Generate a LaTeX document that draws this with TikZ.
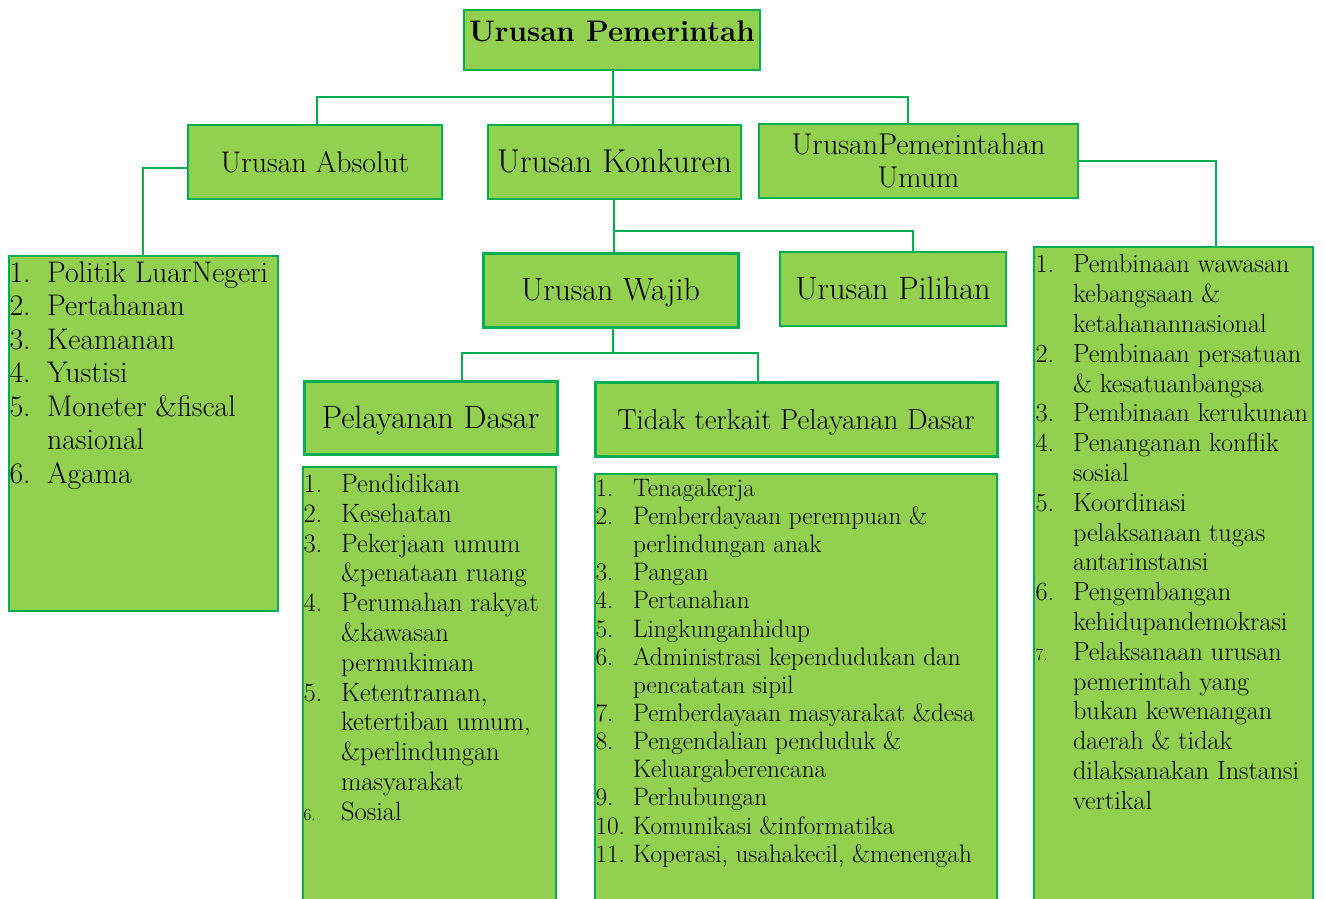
\documentclass[tikz,border=0pt]{standalone}
\usetikzlibrary{
    positioning % for placing the list texts inside their boxes
}
\definecolor{boxgreen}{HTML}{92D050}
\definecolor{linegreen}{HTML}{00B050}
\newlength{\itmw}
\setlength{\itmw}{37.5pt}
\newcommand{\fs}[2]{\fontsize{#1}{#2}\selectfont}
\newcommand{\itm}[1]{\strut\makebox[\itmw][l]{#1}}
\newcommand{\nxt}{\strut\hspace*{\itmw}}

\begin{document}
\begin{tikzpicture}[
        x=1pt,y=-1pt,
        green box/.style  = {rectangle,draw=linegreen,fill=boxgreen,line width=1.3pt,
                             inner sep=0pt,align=center,text height=21pt,text depth=0pt},
        thick box/.style  = {green box,line width=3pt},
        list box/.style   = {rectangle,draw=linegreen,fill=boxgreen,line width=1.3pt,inner sep=0pt},
        list text/.style  = {align=left,inner sep=0pt},
        link/.style       = {draw=linegreen,line width=1.6pt}
    ]
    \useasboundingbox (0,0) rectangle (1325,899);

    % top of the tree
    \node [green box,minimum width=296pt,minimum height=60pt,text height=32pt,text depth=28pt,
           font=\fs{29.7}{36}\bfseries] (title) at (612,40) {Urusan Pemerintah};

    \node [green box,minimum width=254pt,minimum height=74pt,font=\fs{29.8}{33}] (absolut)  at (315,162)   {Urusan Absolut};
    \node [green box,minimum width=253pt,minimum height=74pt,font=\fs{33}{33}]   (konkuren) at (614.5,162) {Urusan Konkuren};
    \node [green box,minimum width=319pt,minimum height=74pt,font=\fs{30}{33},
           text height=,text depth=] (umum) at (918.5,161) {UrusanPemerintahan\\Umum};

    \node [thick box,minimum width=255pt,minimum height=74pt,font=\fs{32}{33}]   (wajib)   at (610.5,290) {Urusan Wajib};
    \node [green box,minimum width=226pt,minimum height=74pt,font=\fs{32.3}{33}] (pilihan) at (893,289)   {Urusan Pilihan};

    \node [thick box,minimum width=253pt,minimum height=73pt,font=\fs{32.3}{33}] (pelayanan) at (430.5,417.5) {Pelayanan Dasar};
    \node [thick box,minimum width=402pt,minimum height=74pt,font=\fs{28.9}{33}] (tidak)     at (796,419)     {Tidak terkait Pelayanan Dasar};

    % the list boxes
    \node [list box,minimum width=269pt,minimum height=355pt] (absList) at (143.5,433.5) {};
    \node [list box,minimum width=253pt,minimum height=438pt] (pdList)  at (429.5,686)   {};
    \node [list box,minimum width=402pt,minimum height=431pt] (tdList)  at (796,689.5)   {};
    \node [list box,minimum width=279pt,minimum height=658pt] (umList)  at (1173.5,576)  {};

    \node [list text,font=\fs{29.8}{33.5},below right=3pt and 1pt of absList.north west] (absItems) {%
        \itm{1.}Politik LuarNegeri\\
        \itm{2.}Pertahanan\\
        \itm{3.}Keamanan\\
        \itm{4.}Yustisi\\
        \itm{5.}Moneter \&fiscal\\
        \nxt nasional\\
        \itm{6.}Agama};

    \node [list text,font=\fs{26.5}{29.8},below right=5pt and 1pt of pdList.north west] (pdItems) {%
        \itm{1.}Pendidikan\\
        \itm{2.}Kesehatan\\
        \itm{3.}Pekerjaan umum\\
        \nxt\&penataan ruang\\
        \itm{4.}Perumahan rakyat\\
        \nxt\&kawasan\\
        \nxt permukiman\\
        \itm{5.}Ketentraman,\\
        \nxt ketertiban umum,\\
        \nxt\&perlindungan\\
        \nxt masyarakat\\
        \itm{\fs{17}{17}6.}Sosial};

    \node [list text,font=\fs{25.2}{28.15},below right=3pt and 1pt of tdList.north west] (tdItems) {%
        \itm{1.}Tenagakerja\\
        \itm{2.}Pemberdayaan perempuan \&\\
        \nxt perlindungan anak\\
        \itm{3.}Pangan\\
        \itm{4.}Pertanahan\\
        \itm{5.}Lingkunganhidup\\
        \itm{6.}Administrasi kependudukan dan\\
        \nxt pencatatan sipil\\
        \itm{7.}Pemberdayaan masyarakat \&desa\\
        \itm{8.}Pengendalian penduduk \&\\
        \nxt Keluargaberencana\\
        \itm{9.}Perhubungan\\
        \itm{10.}Komunikasi \&informatika\\
        \itm{11.}Koperasi, usahakecil, \&menengah};

    \node [list text,font=\fs{26.2}{29.8},below right=5.5pt and 2pt of umList.north west] (umItems) {%
        \itm{1.}Pembinaan wawasan\\
        \nxt kebangsaan \&\\
        \nxt ketahanannasional\\
        \itm{2.}Pembinaan persatuan\\
        \nxt\& kesatuanbangsa\\
        \itm{3.}Pembinaan kerukunan\\
        \itm{4.}Penanganan konflik\\
        \nxt sosial\\
        \itm{5.}Koordinasi\\
        \nxt pelaksanaan tugas\\
        \nxt antarinstansi\\
        \itm{6.}Pengembangan\\
        \nxt kehidupandemokrasi\\
        \itm{\fs{17}{17}7.}Pelaksanaan urusan\\
        \nxt pemerintah yang\\
        \nxt bukan kewenangan\\
        \nxt daerah \& tidak\\
        \nxt dilaksanakan Instansi\\
        \nxt vertikal};

    % connectors
    \coordinate (j1) at (613,97);
    \coordinate (j2) at (614,231);
    \coordinate (j3) at (613,353);

    \draw [link] (title.south -| j1) -- (j1) -- (konkuren.north -| j1);
    \draw [link] ([xshift=2pt]absolut.north) |- (j1) -| ([xshift=-10.5pt]umum.north);
    \draw [link] ([yshift=-6pt]absolut.west) -| ([xshift=-0.5pt]absList.north);
    \draw [link] (umum.east) -| ([xshift=42.5pt]umList.north);
    \draw [link] (konkuren.south -| j2) -- (wajib.north -| j2);
    \draw [link] (j2) -| ([xshift=20pt]pilihan.north);
    \draw [link] (wajib.south -| j3) -- (j3);
    \draw [link] ([xshift=31.5pt]pelayanan.north) |- (j3) -| ([xshift=-38pt]tidak.north);

\end{tikzpicture}
\end{document}
